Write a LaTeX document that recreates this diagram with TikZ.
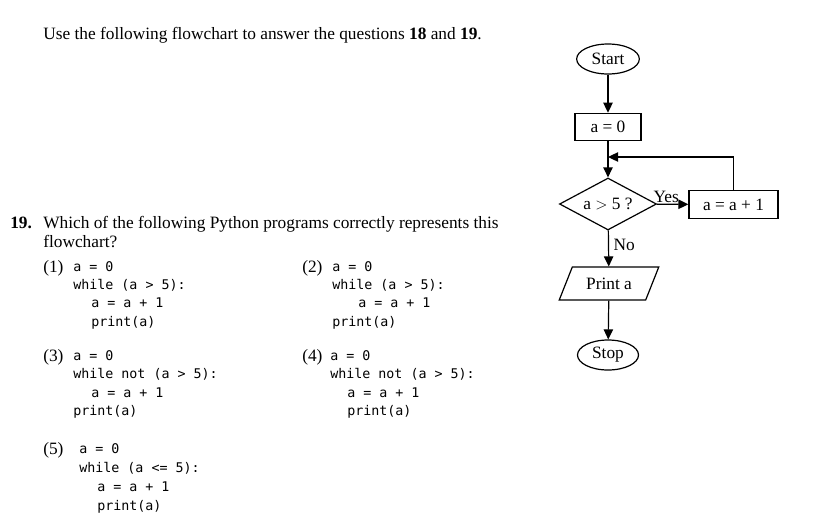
\documentclass[tikz,border=0pt]{standalone}
\usepackage{fontspec}
\setmainfont{Liberation Serif}
\setmonofont{DejaVu Sans Mono}
\usepackage{tikz}
\usetikzlibrary{arrows.meta,shapes.geometric}

\newcommand{\codesize}{\fontsize{10}{12}\selectfont\ttfamily}
\newcommand{\bodysize}{\fontsize{13}{15}\selectfont}

\begin{document}
\begin{tikzpicture}[
    x=0.75pt, y=-0.75pt,
    txt/.style={anchor=mid west, inner sep=0pt, yshift=-2.25pt, font=\bodysize},
    code/.style={anchor=mid west, inner sep=0pt, yshift=-1.5pt, font=\codesize},
    term/.style={ellipse, draw=black, line width=0.9pt, minimum width=47pt,
                 minimum height=22.5pt, inner sep=0pt, font=\bodysize},
    proc/.style={rectangle, draw=black, line width=0.9pt, minimum height=20.5pt,
                 inner sep=0pt, font=\bodysize},
    dec/.style={diamond, aspect=1.87, draw=black, line width=0.9pt, minimum width=72.75pt,
                minimum height=39pt, inner sep=0pt, font=\bodysize},
    io/.style={trapezium, trapezium left angle=55, trapezium right angle=125,
               trapezium stretches=true, draw=black, line width=0.9pt,
               minimum width=75pt, minimum height=24.75pt, inner sep=0pt,
               font=\bodysize},
    arr/.style={-{Triangle[length=7.5pt, width=7pt]}, line width=0.9pt}
]
    \useasboundingbox (0,0) rectangle (822,522);

    % question text
    \node[txt] (intro) at (43,33) {Use the following flowchart to answer the questions \textbf{18} and \textbf{19}.};
    \node[txt] (qnum) at (10,222) {\textbf{19.}};
    \node[txt] (qline1) at (43,222) {Which of the following Python programs correctly represents this};
    \node[txt] (qline2) at (43,241) {flowchart?};

    % option 1
    \node[txt] (o1) at (43,266) {(1)};
    \node[code] (o1a) at (73,266) {a = 0};
    \node[code] (o1b) at (73,284) {while (a > 5):};
    \node[code] (o1c) at (91,302) {a = a + 1};
    \node[code] (o1d) at (91,321) {print(a)};

    % option 2
    \node[txt] (o2) at (302,266) {(2)};
    \node[code] (o2a) at (332,266) {a = 0};
    \node[code] (o2b) at (332,284) {while (a > 5):};
    \node[code] (o2c) at (358,302) {a = a + 1};
    \node[code] (o2d) at (332,321) {print(a)};

    % option 3
    \node[txt] (o3) at (43,355) {(3)};
    \node[code] (o3a) at (73,355) {a = 0};
    \node[code] (o3b) at (73,373) {while not (a > 5):};
    \node[code] (o3c) at (91,392) {a = a + 1};
    \node[code] (o3d) at (73,410) {print(a)};

    % option 4
    \node[txt] (o4) at (302,355) {(4)};
    \node[code] (o4a) at (330,355) {a = 0};
    \node[code] (o4b) at (330,373) {while not (a > 5):};
    \node[code] (o4c) at (347,392) {a = a + 1};
    \node[code] (o4d) at (347,410) {print(a)};

    % option 5
    \node[txt] (o5) at (43,448) {(5)};
    \node[code] (o5a) at (79,448) {a = 0};
    \node[code] (o5b) at (79,467) {while (a <= 5):};
    \node[code] (o5c) at (97,486) {a = a + 1};
    \node[code] (o5d) at (97,505) {print(a)};

    % flowchart
    \node[term] (start) at (608,59) {Start};
    \node[proc, minimum width=49.5pt] (init) at (608,127) {a = 0};
    \node[dec] (test) at (608,204) {a $>$ 5 ?};
    \node[proc, minimum width=66.75pt] (inc) at (733.5,204.5) {a = a + 1};
    \node[io] (out) at (609,283.5) {Print a};
    \node[term, minimum width=45.75pt] (stop) at (608,355) {Stop};
    \coordinate (loopin) at (608,157);

    \draw[arr] (start) -- (init);
    \draw[arr] (init) -- (test);
    \draw[arr] (test) -- node[above, pos=0.3, inner sep=0.5pt, font=\bodysize]{Yes} (inc);
    \draw[arr] (inc.north) |- (loopin);
    \draw[arr] (test) -- node[right, pos=0.4, font=\bodysize]{No} (out);
    \draw[arr] (out) -- (stop);
\end{tikzpicture}
\end{document}
